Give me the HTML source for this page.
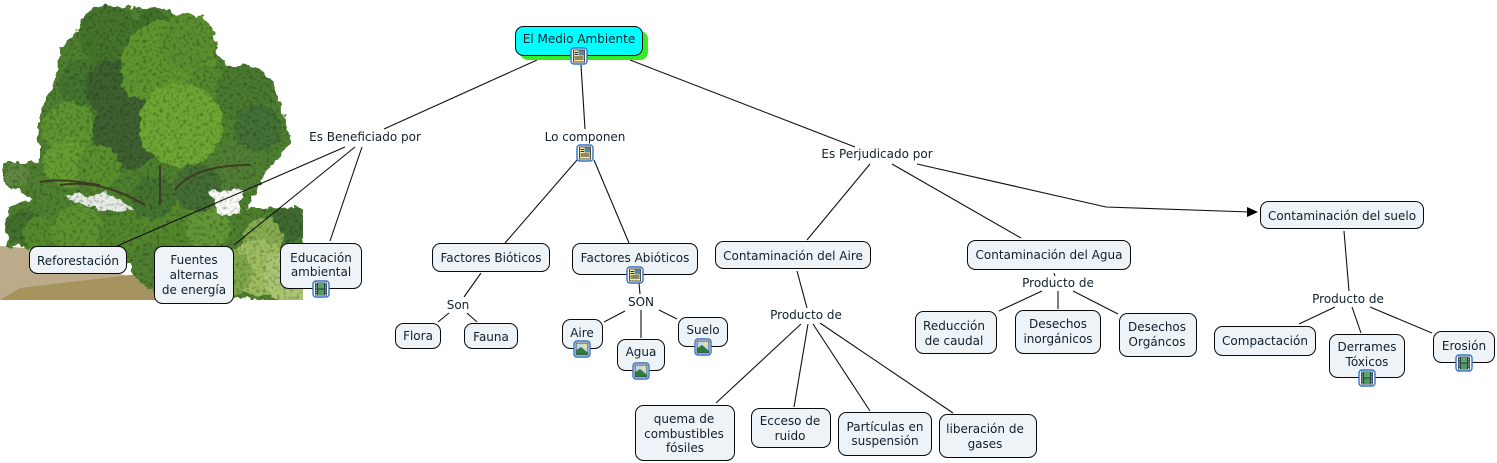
<!DOCTYPE html>
<html><head><meta charset="utf-8"><style>
html,body{margin:0;padding:0;background:#fff;width:1497px;height:463px;overflow:hidden}
svg{display:block}
.n{fill:#eef3f7;stroke:#0a0a0a;stroke-width:1}
.l{stroke:#111;stroke-width:1.1;fill:none}
text{font-family:"DejaVu Sans","Liberation Sans",sans-serif;font-size:12px;fill:#10202c;text-anchor:middle}
</style></head><body>
<svg width="1497" height="463" viewBox="0 0 1497 463" xmlns="http://www.w3.org/2000/svg">
<defs>
<clipPath id="photo"><rect x="0" y="0" width="303" height="300"/></clipPath>
<filter id="rough" x="0" y="0" width="303" height="300" filterUnits="userSpaceOnUse" color-interpolation-filters="sRGB">
<feTurbulence type="fractalNoise" baseFrequency="0.12" numOctaves="3" seed="4" result="t"/>
<feDisplacementMap in="SourceGraphic" in2="t" scale="9" xChannelSelector="R" yChannelSelector="G" result="d"/>
<feTurbulence type="fractalNoise" baseFrequency="0.3" numOctaves="2" seed="9"/>
<feColorMatrix type="matrix" values=".8 0 0 0 .58  .8 0 0 0 .58  .8 0 0 0 .58  0 0 0 0 1" result="g"/>
<feComposite in="g" in2="d" operator="in" result="gi"/>
<feBlend in="d" in2="gi" mode="multiply"/>
</filter>
<g id="f"><rect x="-8" y="-8" width="16" height="16" rx="3" fill="#fff" stroke="#3472c4" stroke-width="1.4"/></g>
<g id="doc"><use href="#f"/><rect x="-5.500" y="-6" width="11" height="12" fill="#f8eea0" stroke="#222" stroke-width=".8"/><rect x="-.5" y="-5.500" width="5.500" height="5" fill="#5f86a8"/><path d="M-4.500 -3.500h3.500M-4.500 -1.500h3.500M-4.500 1h9M-4.500 3h9" stroke="#222" stroke-width=".9"/></g>
<g id="img"><use href="#f"/><rect x="-6" y="-6" width="12" height="12" fill="#c3d6ea" stroke="#1c2a3a" stroke-width=".8"/><path d="M-5.500 5.500L-5.500 1L-1 -2L5.500 3.500L5.500 5.500Z" fill="#2f7a3c"/><circle cx="3" cy="-3" r="1.700" fill="#f5e27a"/></g>
<g id="film"><use href="#f"/><rect x="-6" y="-6.500" width="12" height="13" fill="#2d3d4a"/><rect x="-3" y="-6" width="6" height="5.500" fill="#55a868"/><rect x="-3" y=".5" width="6" height="5.500" fill="#4d9c5e"/><path d="M-4.700 -6v12M4.700 -6v12" stroke="#cfe0ea" stroke-width="1.200" stroke-dasharray="1 1.200"/></g>
</defs>

<!-- tree photo -->
<g clip-path="url(#photo)">
<path d="M0 246L25 248L60 262L160 282L160 300L0 300Z" fill="#bcab8a"/>
<path d="M20 288L155 272L165 300L0 300Z" fill="#a6945f"/>
<g filter="url(#rough)">
<g transform="translate(3,3)">
<!-- silhouette -->
<path d="M95 5L160 5L205 30L222 62L268 75L278 105L288 140L262 172L244 205L300 205L300 300L150 290L150 262L60 262L28 244L4 244L6 205L30 195L0 180L0 160L36 160L36 110L50 85L58 45Z" fill="#4e7f2e"/>
<!-- right bushes -->
<circle cx="285" cy="222" r="18" fill="#3f6a32"/>
<circle cx="260" cy="235" r="20" fill="#86ac50"/>
<circle cx="255" cy="265" r="28" fill="#9dbd60"/>
<circle cx="288" cy="272" r="28" fill="#abc571"/>
<circle cx="225" cy="270" r="24" fill="#7ea84a"/>
<!-- low canopy -->
<circle cx="20" cy="224" r="18" fill="#43702c"/>
<circle cx="38" cy="232" r="18" fill="#548a2c"/>
<circle cx="75" cy="228" r="26" fill="#5c932e"/>
<circle cx="120" cy="235" r="26" fill="#52852c"/>
<circle cx="165" cy="222" r="28" fill="#54872c"/>
<circle cx="205" cy="225" r="22" fill="#629636"/>
<circle cx="150" cy="262" r="22" fill="#4d7f2e"/>
<circle cx="185" cy="270" r="22" fill="#558534"/>
<!-- crown -->
<circle cx="105" cy="32" r="30" fill="#44732a"/>
<circle cx="150" cy="25" r="18" fill="#417029"/>
<circle cx="80" cy="80" r="24" fill="#44742e"/>
<circle cx="110" cy="85" r="28" fill="#3c602e"/>
<circle cx="165" cy="65" r="48" fill="#5e952e"/>
<circle cx="185" cy="38" r="28" fill="#598f2f"/>
<circle cx="205" cy="85" r="22" fill="#54892e"/>
<circle cx="240" cy="90" r="28" fill="#4a7a2e"/>
<circle cx="255" cy="125" r="24" fill="#437034"/>
<circle cx="125" cy="130" r="36" fill="#3e6030"/>
<circle cx="65" cy="125" r="26" fill="#5c9430"/>
<circle cx="65" cy="160" r="24" fill="#649d32"/>
<circle cx="95" cy="165" r="22" fill="#598f2d"/>
<circle cx="14" cy="172" r="12" fill="#5f8740"/>
<circle cx="178" cy="122" r="42" fill="#6ea634"/>
<circle cx="230" cy="165" r="26" fill="#507f34"/>
<circle cx="195" cy="185" r="24" fill="#446d34"/>
<circle cx="150" cy="195" r="22" fill="#447330"/>
<path d="M60 193L105 190L132 207L98 208Z" fill="#e6ece6"/>
<path d="M206 188L240 186L236 210L216 212Z" fill="#fafcf8"/>
</g>
</g>
<path d="M60 185C90 180 120 190 145 205M160 165V205M175 190C190 170 220 165 250 165M40 182C60 178 80 182 100 185" stroke="#3f3a24" stroke-width="2" fill="none"/>
</g>

<!-- connectors -->
<g class="l">
<path d="M537 60L384 129"/><path d="M581 65L585 129"/><path d="M630 60L855 147"/>
<path d="M345 147L117 246"/><path d="M355 147L234 245"/><path d="M362 147L330 241"/>
<path d="M577 160L505 243"/><path d="M594 160L629 243"/>
<path d="M481 273L464 297"/><path d="M449 313L438 322"/><path d="M467 313L477 322"/>
<path d="M639 283L640 294"/><path d="M625 311L604 322"/><path d="M641 310V338"/><path d="M659 310L677 319"/>
<path d="M870 164L807 240"/><path d="M892 164L1021 238"/><path d="M917 164L1106 207L1250 212"/>
<path d="M797 271L807 308"/><path d="M801 324L716 403"/><path d="M808 324L794 407"/><path d="M813 324L870 411"/><path d="M820 323L953 413"/>
<path d="M1054 273L1055 276"/><path d="M1042 291L999 311"/><path d="M1058 291V309"/><path d="M1073 291L1118 314"/>
<path d="M1344 231L1349 291"/><path d="M1335 307L1299 324"/><path d="M1352 307L1361 333"/><path d="M1370 307L1432 333"/>
</g>
<polygon points="1258,212 1247,207 1247,217" fill="#000"/>

<!-- root -->
<rect x="520" y="31" width="128" height="29" rx="8" fill="#33ee22"/>
<rect x="515.500" y="26.500" width="127" height="29" rx="8" fill="#00ffff" stroke="#0a0a0a"/>
<text x="579" y="43">El Medio Ambiente</text>

<!-- nodes -->
<rect class="n" x="29.500" y="246.500" width="97" height="27" rx="8"/><text x="78" y="265">Reforestación</text>
<rect class="n" x="154.500" y="246.500" width="79" height="57" rx="8"/><text x="194" y="264">Fuentes</text><text x="194" y="279">alternas</text><text x="194" y="294">de energía</text>
<rect class="n" x="280.500" y="243.500" width="81" height="45" rx="8"/><text x="321" y="262">Educación</text><text x="321" y="276">ambiental</text>
<rect class="n" x="432.500" y="243.500" width="117" height="28" rx="8"/><text x="491" y="262">Factores Bióticos</text>
<rect class="n" x="572.500" y="243.500" width="125" height="31" rx="8"/><text x="635" y="262">Factores Abióticos</text>
<rect class="n" x="395.500" y="323.500" width="45" height="25" rx="8"/><text x="418" y="340">Flora</text>
<rect class="n" x="464.500" y="323.500" width="53" height="25" rx="8"/><text x="491" y="341">Fauna</text>
<rect class="n" x="562.500" y="319.500" width="40" height="29" rx="8"/><text x="582" y="337">Aire</text>
<rect class="n" x="617.500" y="339.500" width="47" height="31" rx="8"/><text x="641" y="356">Agua</text>
<rect class="n" x="678.500" y="317.500" width="49" height="29" rx="8"/><text x="703" y="334">Suelo</text>
<rect class="n" x="715.500" y="241.500" width="155" height="27" rx="8"/><text x="793" y="260">Contaminación del Aire</text>
<rect class="n" x="967.500" y="240.500" width="163" height="29" rx="8"/><text x="1049" y="259">Contaminación del Agua</text>
<rect class="n" x="1260.500" y="201.500" width="163" height="27" rx="8"/><text x="1342" y="220">Contaminación del suelo</text>
<rect class="n" x="915.500" y="311.500" width="81" height="42" rx="8"/><text x="954" y="330">Reducción</text><text x="954" y="345">de caudal</text>
<rect class="n" x="1015.500" y="310.500" width="85" height="43" rx="8"/><text x="1058" y="328">Desechos</text><text x="1058" y="343">inorgánicos</text>
<rect class="n" x="1119.500" y="313.500" width="77" height="43" rx="8"/><text x="1157" y="331">Desechos</text><text x="1157" y="346">Orgáncos</text>
<rect class="n" x="1214.500" y="326.500" width="101" height="29" rx="8"/><text x="1265" y="345">Compactación</text>
<rect class="n" x="1329.500" y="334.500" width="75" height="43" rx="8"/><text x="1367" y="351">Derrames</text><text x="1367" y="366">Tóxicos</text>
<rect class="n" x="1433.500" y="331.500" width="61" height="31" rx="8"/><text x="1464" y="350">Erosión</text>
<rect class="n" x="635.500" y="405.500" width="99" height="55" rx="8"/><text x="684" y="423">quema de</text><text x="684" y="438">combustibles</text><text x="685" y="452">fósiles</text>
<rect class="n" x="751.500" y="408.500" width="79" height="39" rx="8"/><text x="790" y="425">Ecceso de</text><text x="790" y="440">ruido</text>
<rect class="n" x="838.500" y="412.500" width="93" height="43" rx="8"/><text x="885" y="431">Partículas en</text><text x="885" y="445">suspensión</text>
<rect class="n" x="939.500" y="414.500" width="97" height="43" rx="8"/><text x="985" y="433">liberación de</text><text x="985" y="448">gases</text>

<!-- linking phrases -->
<text x="365" y="141">Es Beneficiado por</text>
<text x="585" y="141">Lo componen</text>
<text x="877" y="158">Es Perjudicado por</text>
<text x="458" y="309">Son</text>
<text x="641" y="306">SON</text>
<text x="806" y="319">Producto de</text>
<text x="1058" y="287">Producto de</text>
<text x="1348" y="303">Producto de</text>

<!-- icons -->
<use href="#doc" x="579" y="56"/>
<use href="#doc" x="585" y="153"/>
<use href="#doc" x="635" y="275"/>
<use href="#img" x="582" y="349"/>
<use href="#img" x="641" y="371"/>
<use href="#img" x="703" y="347"/>
<use href="#film" x="321" y="289"/>
<use href="#film" x="1367" y="378"/>
<use href="#film" x="1464" y="363"/>
</svg>
</body></html>
